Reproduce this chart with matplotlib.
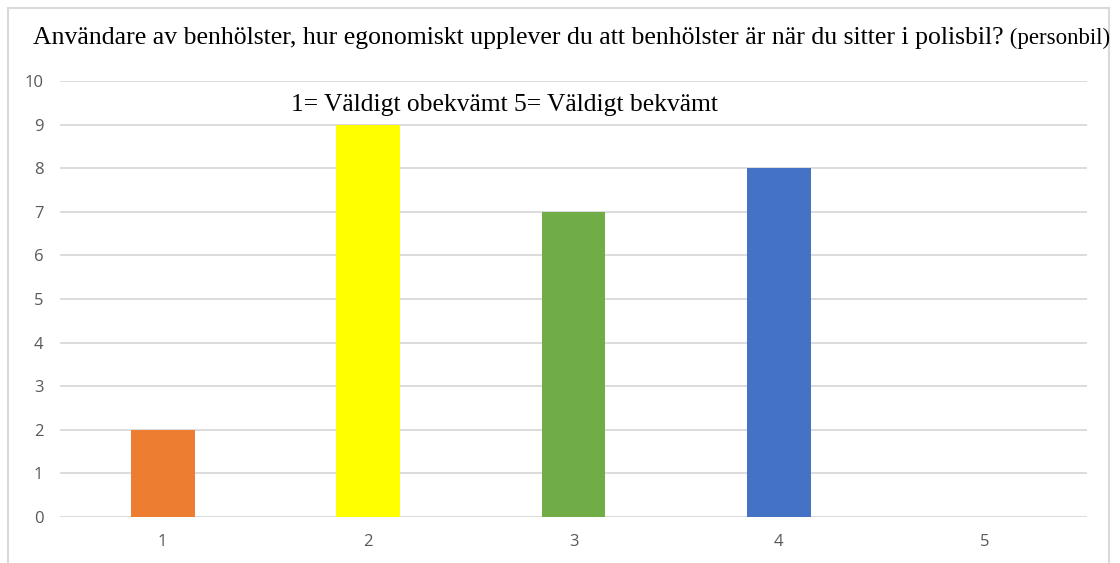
import matplotlib
matplotlib.use("Agg")
import matplotlib.pyplot as plt
from matplotlib.patches import Rectangle

categories = ["1", "2", "3", "4", "5"]
values = [2, 9, 7, 8, 0]
colors = ["#ED7D31", "#FFFF00", "#70AD47", "#4472C4", "#A5A5A5"]
yticks = list(range(0, 11))

title_main = "Användare av benhölster, hur egonomiskt upplever du att benhölster är när du sitter i polisbil?"
title_small = " (personbil)"
subtitle = "1= Väldigt obekvämt 5= Väldigt bekvämt"

W, H = 1120, 563
fig = plt.figure(figsize=(W / 100, H / 100), dpi=100)
fig.patch.set_facecolor("white")

# outer chart border
fig.patches.append(Rectangle((8 / W, -0.05), (1109 - 8) / W, (H - 8) / H + 0.05,
                             transform=fig.transFigure, fill=False,
                             edgecolor="#D9D9D9", linewidth=1.5))

ax = fig.add_axes([60 / W, (H - 517) / H, (1087 - 60) / W, (517 - 81) / H])
x = list(range(len(categories)))
ax.bar(x, values, width=0.31, color=colors, zorder=3)
ax.set_xlim(-0.5, len(categories) - 0.5)
ax.set_ylim(0, 10)
ax.set_yticks(yticks)
ax.set_xticks(x)
ax.set_xticklabels(categories)
ax.grid(axis="y", color="#D9D9D9", linewidth=1.3, zorder=0)
for s in ax.spines.values():
    s.set_visible(False)
ax.tick_params(length=0, colors="#595959", labelsize=12)
ax.tick_params(axis="x", pad=12)
ax.tick_params(axis="y", pad=12)
for lab in ax.get_xticklabels() + ax.get_yticklabels():
    lab.set_family("Open Sans")

t = fig.text(33 / W, 1 - 38 / H, title_main, family="Liberation Serif",
             fontsize=18.5, va="center", ha="left", color="black")
fig.canvas.draw()
bb = t.get_window_extent()
fig.text(bb.x1 / W, 1 - 38 / H, title_small, family="Liberation Serif",
         fontsize=16.5, va="center", ha="left", color="black")

ax.text(2.0 - 0.5 + 0.165, 9.45, subtitle, family="Liberation Serif", fontsize=18.4,
        va="center", ha="center", color="black", zorder=4)

fig.savefig("out.png", dpi=100, facecolor="white")
